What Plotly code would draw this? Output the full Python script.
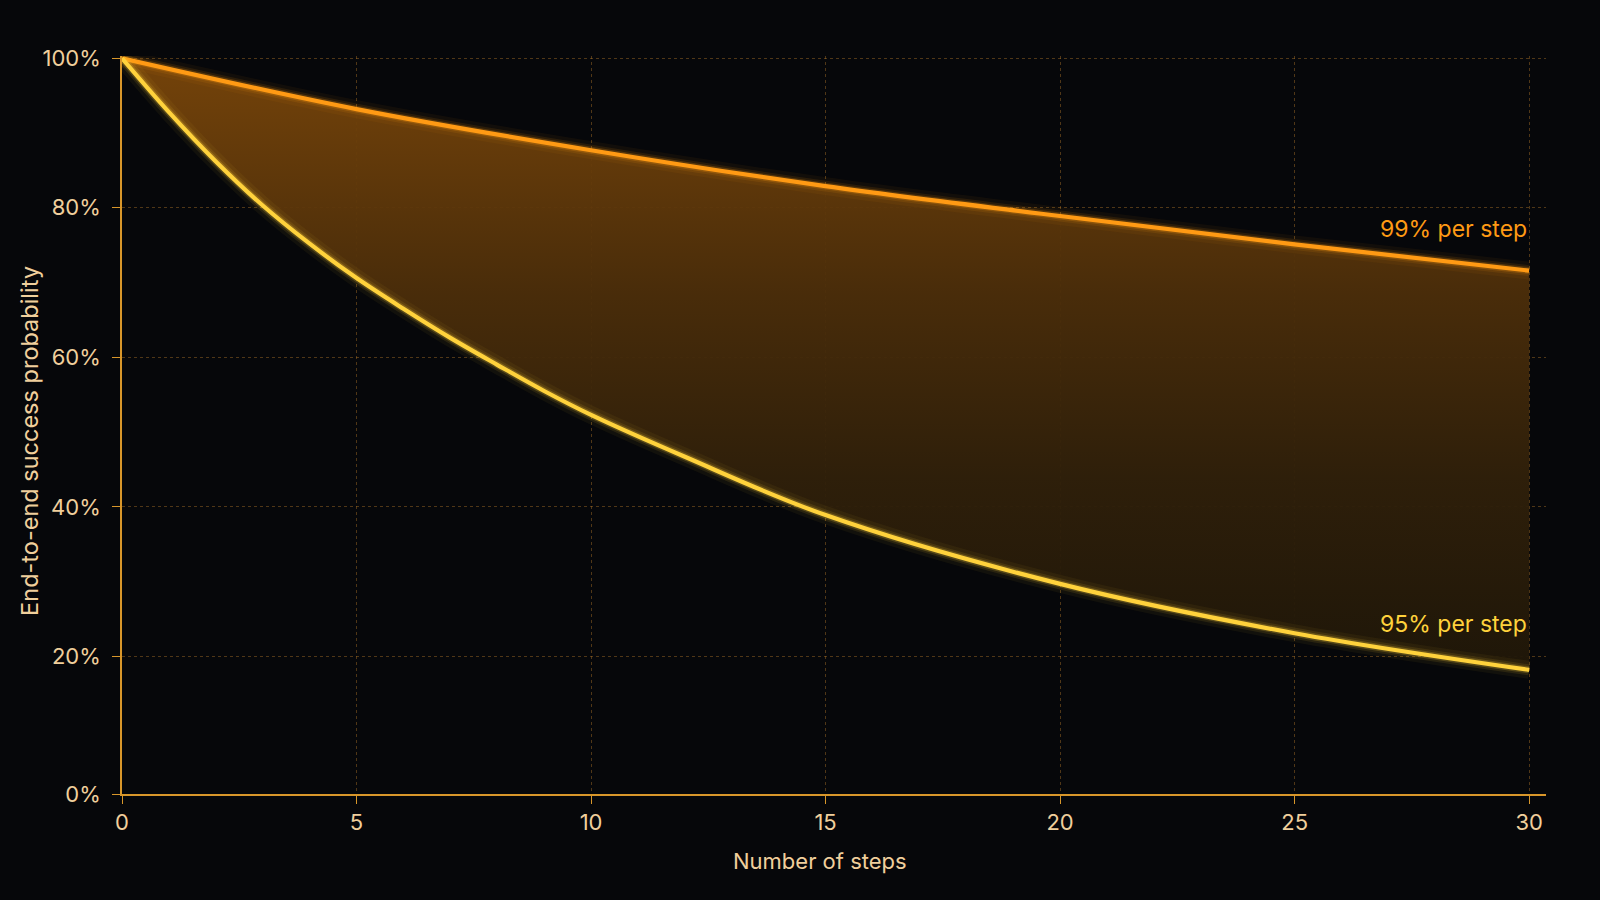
import plotly.graph_objects as go

# ---- data ----
steps_99 = [0, 5, 10, 15, 20, 25, 30]
p99 = [1.0, 0.932, 0.877, 0.829, 0.789, 0.751, 0.716]

steps_95 = [0, 1, 2, 3, 4, 5, 6, 7, 8, 9, 10, 12, 15, 20, 25, 30]
p95 = [1.0, 0.928, 0.862, 0.803, 0.752, 0.706, 0.665, 0.626, 0.590, 0.555,
       0.523, 0.467, 0.389, 0.297, 0.231, 0.182]

x_ticks = [0, 5, 10, 15, 20, 25, 30]
y_ticks = [0.0, 0.2, 0.4, 0.6, 0.8, 1.0]
y_tick_labels = ["0%", "20%", "40%", "60%", "80%", "100%"]

label_99 = "99% per step"
label_95 = "95% per step"
x_title = "Number of steps"
y_title = "End-to-end success probability"

# ---- styles ----
BG = "#06070a"
C99 = "#ff9a14"
C95 = "#ffd23c"
AXIS = "#d8962a"
TXT = "#f0cf9c"
GRID = "rgba(170,115,40,0.45)"
FONT = "Inter, Roboto, sans-serif"

Y_MIN = 0.016
Y_MAX = 1.003
tickvals_y = [max(v, Y_MIN) for v in y_ticks]

fig = go.Figure()

# lower boundary (invisible) for the band
fig.add_trace(go.Scatter(x=steps_95, y=p95, mode="lines",
                         line=dict(width=0, shape="spline", color=C95),
                         hoverinfo="skip", showlegend=False))
# upper boundary with gradient fill down to the 95% curve
fig.add_trace(go.Scatter(x=steps_99, y=p99, mode="lines", fill="tonexty",
                         fillgradient=dict(type="vertical",
                                           start=0.15, stop=0.97,
                                           colorscale=[[0.0, "rgba(30,22,8,0.95)"],
                                                       [0.35, "rgba(48,32,10,0.95)"],
                                                       [0.65, "rgba(76,46,10,0.95)"],
                                                       [1.0, "rgba(118,68,10,0.95)"]]),
                         line=dict(width=0, shape="spline", color=C99),
                         hoverinfo="skip", showlegend=False))

# glow layers + main lines
for xs, ys, col, rgb in [(steps_99, p99, C99, "255,154,20"),
                         (steps_95, p95, C95, "255,210,60")]:
    for w, a in [(18, 0.05), (11, 0.10), (7, 0.22)]:
        fig.add_trace(go.Scatter(x=xs, y=ys, mode="lines",
                                 line=dict(width=w, shape="spline", color=f"rgba({rgb},{a})"),
                                 hoverinfo="skip", showlegend=False, cliponaxis=False))
    fig.add_trace(go.Scatter(x=xs, y=ys, mode="lines",
                             line=dict(width=4.2, shape="spline", color=col),
                             showlegend=False, cliponaxis=False))

# end labels
fig.add_annotation(x=30, y=0.772, text=label_99, showarrow=False,
                   xanchor="right", yanchor="middle",
                   font=dict(family=FONT, size=23, color=C99))
fig.add_annotation(x=30, y=0.244, text=label_95, showarrow=False,
                   xanchor="right", yanchor="middle",
                   font=dict(family=FONT, size=23, color=C95))

# axis titles
fig.add_annotation(xref="paper", yref="paper", x=0.49, y=-0.091,
                   text=x_title, showarrow=False, xanchor="center", yanchor="middle",
                   font=dict(family=FONT, size=22, color=TXT))
fig.add_annotation(xref="paper", yref="paper", x=-0.0646, y=0.4785,
                   text=y_title, showarrow=False, textangle=-90,
                   xanchor="center", yanchor="middle",
                   font=dict(family=FONT, size=23.5, color=TXT))

fig.update_layout(
    width=1600, height=900,
    paper_bgcolor=BG, plot_bgcolor=BG,
    margin=dict(l=122, r=54, t=56, b=106),
    font=dict(family=FONT, color=TXT),
    showlegend=False,
    xaxis=dict(
        range=[0, 30.36], tickvals=x_ticks,
        showgrid=True, gridcolor=GRID, griddash="dot", gridwidth=1,
        zeroline=False,
        showline=True, linecolor=AXIS, linewidth=1.6,
        ticks="outside", ticklen=8, tickwidth=1.4, tickcolor=AXIS,
        tickfont=dict(family=FONT, size=22, color=TXT),
        ticklabelstandoff=0,
    ),
    yaxis=dict(
        range=[Y_MIN, Y_MAX], tickvals=tickvals_y, ticktext=y_tick_labels,
        showgrid=True, gridcolor=GRID, griddash="dot", gridwidth=1,
        zeroline=False,
        showline=True, linecolor=AXIS, linewidth=1.6,
        ticks="outside", ticklen=8, tickwidth=1.4, tickcolor=AXIS,
        tickfont=dict(family=FONT, size=22, color=TXT),
        ticklabelstandoff=7,
    ),
)

fig.write_html("out.html",
               config={"displayModeBar": False},
               post_script="document.body.style.margin='0';document.body.style.background='#06070a';document.body.style.overflow='hidden';")
